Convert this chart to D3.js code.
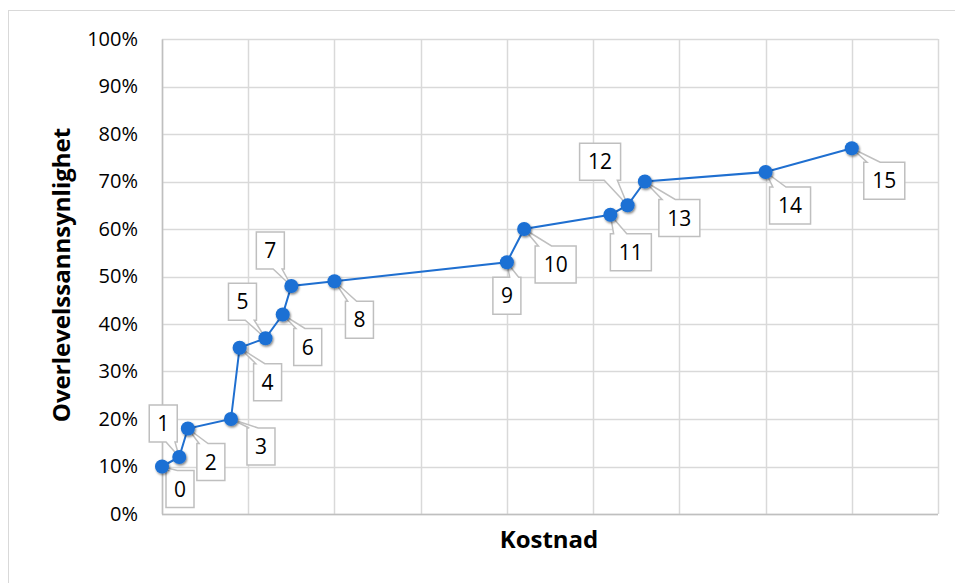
<!DOCTYPE html>
<html>
<head>
<meta charset="utf-8">
<script src="https://cdn.jsdelivr.net/npm/d3@7"></script>
<style>
  body { margin: 0; background: #fff; }
  svg text { font-family: "Open Sans", "Liberation Sans", sans-serif; fill: #000; }
  .tick text { font-size: 20px; }
  .axisTitle { font-size: 24px; font-weight: bold; }
  .callout text { font-size: 21px; }
</style>
</head>
<body>
<div id="chart"></div>
<script>
// data
const pointLabels = ["0", "1", "2", "3", "4", "5", "6", "7", "8", "9", "10", "11", "12", "13", "14", "15"];
const cost = [0, 0.2, 0.3, 0.8, 0.9, 1.2, 1.4, 1.5, 2.0, 4.0, 4.2, 5.2, 5.4, 5.6, 7.0, 8.0];
const survival = [0.10, 0.12, 0.18, 0.20, 0.35, 0.37, 0.42, 0.48, 0.49, 0.53, 0.60, 0.63, 0.65, 0.70, 0.72, 0.77];
const yTicks = [0, 0.1, 0.2, 0.3, 0.4, 0.5, 0.6, 0.7, 0.8, 0.9, 1.0];
const xTicks = [0, 1, 2, 3, 4, 5, 6, 7, 8, 9];

// where each callout box sits relative to its point (styling, not data)
const calloutOffset = [
  [4, 4], [-30, -52], [9, 15], [16, 9], [14, 16], [-37, -55], [11, 14], [-35, -54],
  [11, 20], [-14, 15], [11, 17], [0, 19], [-48, -62], [14, 18], [4, 15], [12, 14]
];

const width = 955;
const height = 583;
const margin = {top: 39, right: 17, bottom: 69, left: 162};

const svg = d3.select("#chart").append("svg")
    .attr("width", width)
    .attr("height", height);

// outer chart frame
svg.append("rect")
    .attr("x", 8.5).attr("y", 10.5)
    .attr("width", 1000).attr("height", 1000)
    .attr("fill", "none")
    .attr("stroke", "#d9d9d9");

const x = d3.scaleLinear()
    .domain([0, 9])
    .range([margin.left, width - margin.right]);

const y = d3.scaleLinear()
    .domain([0, 1])
    .range([height - margin.bottom, margin.top]);

// gridlines
svg.append("g")
    .selectAll("line.vgrid")
    .data(xTicks)
    .enter().append("line")
      .attr("class", "vgrid")
      .attr("x1", d => Math.round(x(d)) + 0.5).attr("x2", d => Math.round(x(d)) + 0.5)
      .attr("y1", y(1)).attr("y2", y(0))
      .attr("stroke", "#d9d9d9")
      .attr("stroke-width", 1.5);

svg.append("g")
    .selectAll("line.hgrid")
    .data(yTicks)
    .enter().append("line")
      .attr("class", "hgrid")
      .attr("x1", x(0)).attr("x2", x(9))
      .attr("y1", d => Math.round(y(d)) + 0.5).attr("y2", d => Math.round(y(d)) + 0.5)
      .attr("stroke", "#d9d9d9")
      .attr("stroke-width", 1.5);

// y axis
const yAxis = d3.axisLeft(y)
    .tickValues(yTicks)
    .tickFormat(d3.format(".0%"))
    .tickSize(0)
    .tickPadding(24);

svg.append("g")
    .attr("transform", `translate(${x(0)},0)`)
    .call(yAxis)
    .call(g => g.select(".domain").attr("stroke", "#bfbfbf").attr("stroke-width", 1.5));

// x axis line, no labels
svg.append("line")
    .attr("x1", x(0)).attr("x2", x(9))
    .attr("y1", y(0) + 0.5).attr("y2", y(0) + 0.5)
    .attr("stroke", "#bfbfbf")
    .attr("stroke-width", 1.5);

// titles
svg.append("text")
    .attr("class", "axisTitle")
    .attr("x", 549).attr("y", 548)
    .attr("text-anchor", "middle")
    .text("Kostnad");

svg.append("text")
    .attr("class", "axisTitle")
    .attr("transform", "translate(70, 275) rotate(-90)")
    .attr("text-anchor", "middle")
    .text("Overlevelssannsynlighet");

// marker shadow
const defs = svg.append("defs");
const shadow = defs.append("filter").attr("id", "shadow")
    .attr("x", "-50%").attr("y", "-50%").attr("width", "200%").attr("height", "200%");
shadow.append("feDropShadow")
    .attr("dx", 1).attr("dy", 1.5).attr("stdDeviation", 1.2)
    .attr("flood-color", "#000").attr("flood-opacity", 0.5);

const points = cost.map((c, i) => ({c: c, s: survival[i], label: pointLabels[i], off: calloutOffset[i]}));

// callouts drawn under the line
function calloutPath(d) {
  const px = x(d.c), py = y(d.s);
  const w = d.label.length > 1 ? 41 : 28, h = 37;
  const bx = px + d.off[0], by = py + d.off[1];
  const tipLeft = px < bx + w / 2;
  const b1 = tipLeft ? bx + w * 0.08 : bx + w * 0.6;
  const b2 = tipLeft ? bx + w * 0.4 : bx + w * 0.92;
  if (py < by) {
    return `M${bx},${by}L${b1},${by}L${px},${py}L${b2},${by}L${bx + w},${by}` +
      `L${bx + w},${by + h}L${bx},${by + h}Z`;
  }
  return `M${bx},${by}L${bx + w},${by}L${bx + w},${by + h}L${b2},${by + h}` +
    `L${px},${py}L${b1},${by + h}L${bx},${by + h}Z`;
}

const callouts = svg.append("g").attr("class", "callout")
    .selectAll("g")
    .data(points)
    .enter().append("g");

callouts.append("path")
    .attr("d", calloutPath)
    .attr("fill", "#fff")
    .attr("stroke", "#bfbfbf")
    .attr("stroke-width", 1.5);

callouts.append("text")
    .attr("x", d => x(d.c) + d.off[0] + (d.label.length > 1 ? 41 : 28) / 2)
    .attr("y", d => y(d.s) + d.off[1] + 26)
    .attr("text-anchor", "middle")
    .text(d => d.label);

// line and markers
const line = d3.line()
    .x(d => x(d.c))
    .y(d => y(d.s));

svg.append("path")
    .datum(points)
    .attr("d", line)
    .attr("fill", "none")
    .attr("stroke", "#1f6fd0")
    .attr("stroke-width", 2);

svg.append("g")
    .selectAll("circle")
    .data(points)
    .enter().append("circle")
      .attr("cx", d => x(d.c))
      .attr("cy", d => y(d.s))
      .attr("r", 7)
      .attr("fill", "#1a6fd4")
      .attr("filter", "url(#shadow)");
</script>
</body>
</html>
